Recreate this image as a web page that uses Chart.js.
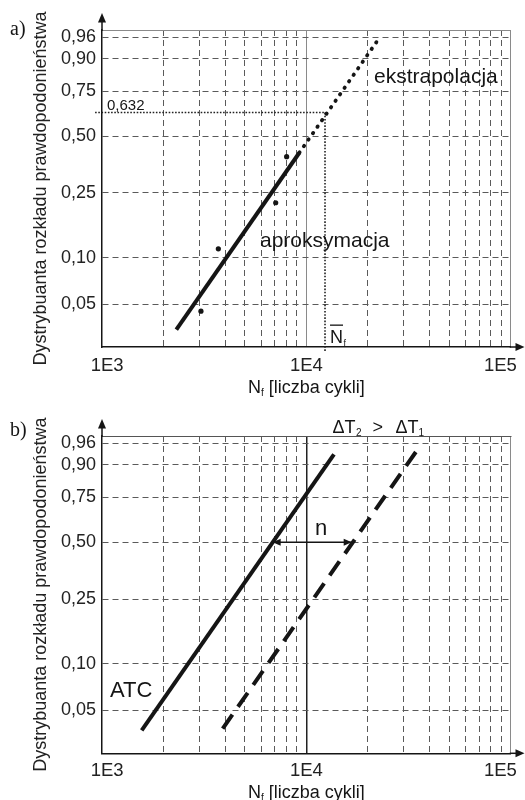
<!DOCTYPE html>
<html lang="pl">
<head>
<meta charset="utf-8">
<title>Dystrybuanta rozkładu Weibulla</title>
<script src="https://cdn.jsdelivr.net/npm/chart.js@4.4.1/dist/chart.umd.min.js"></script>
<style>
  html, body { margin: 0; padding: 0; background: #fff; }
  canvas { display: block; }
</style>
</head>
<body>
<canvas id="chartA" width="525" height="400"></canvas>
<canvas id="chartB" width="525" height="400"></canvas>
<script>
// ---------------- data : panel a) ----------------
const aTestN = [3050, 3710, 7080, 8010];          // test results, cycles
const aTestF = [0.045, 0.114, 0.219, 0.396];      // median ranks
const aFitN = [2310, 9240];                       // approximation line
const aFitF = [0.034, 0.415];
const aExtrapN = [9240, 22100];                   // extrapolation
const aExtrapF = [0.415, 0.950];
const aCharN = 12340;                             // N̄f
const aCharF = 0.632;
const aHGuideN = [925, 12340];
const aHGuideF = [0.632, 0.632];
const aVGuideN = [12340, 12340];
const aVGuideF = [0.632, 0.024];

// ---------------- data : panel b) ----------------
const bATCN = [1564, 13650];
const bATCF = [0.037, 0.933];
const bShiftN = [3896, 34400];
const bShiftF = [0.038, 0.940];
const bArrowN = [6843, 16670];
const bArrowF = [0.5, 0.5];

// ---------------- axes ----------------
const yTickF = [0.05, 0.10, 0.25, 0.50, 0.75, 0.90, 0.96];
const yTickLabels = ['0,05', '0,10', '0,25', '0,50', '0,75', '0,90', '0,96'];
const yRangeF = [0.0261, 0.9724];
const xRangeN = [1e3, 1e5];
const xLabelN = [1e3, 1e4, 1e5];
const xTickLabels = ['1E3', '1E4', '1E5'];

// ---------------- helpers ----------------
const SANS = '"Liberation Sans", Arial, Helvetica, sans-serif';
const SERIF = '"Liberation Serif", "Times New Roman", serif';
const INK = '#151515';
const wb = F => Math.log(-Math.log(1 - F));        // Weibull probability axis
const pts = (ns, fs) => ns.map((n, i) => ({ x: n, y: wb(fs[i]) }));

const gridN = [];
for (let d = xRangeN[0]; d < xRangeN[1]; d *= 10) for (let m = 1; m < 10; m++) gridN.push(m * d);
gridN.push(xRangeN[1]);

const xPadL = ['  ', '', ''];
const xPadR = ['', '', '    '];

function txt(ctx, s, font, x, y) {
  ctx.font = font; ctx.textAlign = 'left'; ctx.textBaseline = 'alphabetic';
  ctx.fillText(s, x, y);
  return ctx.measureText(s).width;
}
function axisTitle(ctx, ca, baseline) {
  const big = '18px ' + SANS, small = '10px ' + SANS;
  ctx.font = big;
  const wN = ctx.measureText('N').width, wR = ctx.measureText(' [liczba cykli]').width;
  ctx.font = small;
  const wf = ctx.measureText('f').width;
  let x = (ca.left + ca.right) / 2 - (wN + wf + wR) / 2;
  txt(ctx, 'N', big, x, baseline); x += wN;
  txt(ctx, 'f', small, x, baseline + 3); x += wf;
  txt(ctx, ' [liczba cykli]', big, x, baseline);
}
function axisArrows(ctx, chart) {
  const ca = chart.chartArea;
  ctx.strokeStyle = INK; ctx.fillStyle = INK; ctx.lineWidth = 1.5;
  ctx.beginPath(); ctx.moveTo(ca.left, ca.top + 1); ctx.lineTo(ca.left, ca.top - 9); ctx.stroke();
  ctx.beginPath(); ctx.moveTo(ca.left, ca.top - 17); ctx.lineTo(ca.left - 4, ca.top - 7.5); ctx.lineTo(ca.left + 4, ca.top - 7.5); ctx.closePath(); ctx.fill();
  ctx.beginPath(); ctx.moveTo(ca.right - 1, ca.bottom); ctx.lineTo(ca.right + 6, ca.bottom); ctx.stroke();
  const tip = chart.width - 0.5;
  ctx.beginPath(); ctx.moveTo(tip, ca.bottom); ctx.lineTo(tip - 9, ca.bottom - 4); ctx.lineTo(tip - 9, ca.bottom + 4); ctx.closePath(); ctx.fill();
}

function makeChart(id, cfg) {
  return new Chart(document.getElementById(id), {
    type: 'scatter',
    data: { datasets: cfg.datasets },
    options: {
      responsive: false, animation: false, devicePixelRatio: 1, events: [],
      layout: { padding: { top: cfg.top, right: 14.3, left: 0, bottom: 0 } },
      plugins: { legend: { display: false }, tooltip: { enabled: false } },
      elements: { line: { tension: 0 } },
      scales: {
        x: {
          type: 'logarithmic', position: 'bottom', min: xRangeN[0], max: xRangeN[1],
          afterBuildTicks: s => { s.ticks = gridN.map(v => ({ value: v })); },
          afterFit: s => { s.height = cfg.xHeight; s.paddingLeft = 0; s.paddingRight = 0; },
          grid: {
            drawTicks: false, lineWidth: 1,
            color: c => (c.tick && xLabelN.indexOf(c.tick.value) >= 0) ? 'rgba(0,0,0,0)' : '#5a5a5a'
          },
          border: { display: true, color: INK, width: 1.5, dash: [6, 4] },
          ticks: {
            autoSkip: false, maxRotation: 0, minRotation: 0, padding: cfg.xPad,
            color: '#222', font: { family: SANS, size: 18.5 },
            callback: v => { const i = xLabelN.indexOf(v); return i < 0 ? '' : xPadL[i] + xTickLabels[i] + xPadR[i]; }
          }
        },
        xFrame: {
          type: 'logarithmic', position: 'top', min: xRangeN[0], max: xRangeN[1],
          afterBuildTicks: s => { s.ticks = xLabelN.slice(1).map(v => ({ value: v })); },
          afterFit: s => { s.height = 0; s.paddingLeft = 0; s.paddingRight = 0; },
          ticks: { display: false },
          grid: {
            drawTicks: false,
            color: c => (c.tick && c.tick.value === 1e4) ? cfg.decadeColor : '#8a8a8a',
            lineWidth: c => (c.tick && c.tick.value === 1e4) ? cfg.decadeWidth : 1
          },
          border: { display: true, color: cfg.frameColor, width: 1 }
        },
        y: {
          type: 'linear', position: 'left', min: wb(yRangeF[0]), max: wb(yRangeF[1]),
          afterBuildTicks: s => { s.ticks = yTickF.map(f => ({ value: wb(f) })); },
          afterFit: s => { s.width = 102; s.paddingTop = 0; s.paddingBottom = 0; },
          grid: { drawTicks: false, lineWidth: 1, color: '#5a5a5a' },
          border: { display: true, color: INK, width: 1.5, dash: [6, 4] },
          ticks: {
            padding: 6, color: '#222', font: { family: SANS, size: 18 },
            callback: (v, i) => yTickLabels[i]
          },
          title: {
            display: true, text: 'Dystrybuanta rozkładu prawdopodonieństwa',
            color: '#222', font: { family: SANS, size: 18 }, padding: { top: 30.5, bottom: 0 }
          }
        }
      }
    },
    plugins: [{ id: 'decor', afterDraw: cfg.decor }]
  });
}

// ---------------- panel a) ----------------
makeChart('chartA', {
  top: 30, xHeight: 53, xPad: 7.7, decadeColor: '#8a8a8a', decadeWidth: 1, frameColor: '#8a8a8a',
  datasets: [
    { label: 'wyniki', data: pts(aTestN, aTestF), showLine: false, pointRadius: 2.6, pointBackgroundColor: INK, pointBorderWidth: 0 },
    { label: 'aproksymacja', data: pts(aFitN, aFitF), showLine: true, borderColor: INK, borderWidth: 4, pointRadius: 0 },
    { label: 'ekstrapolacja', data: pts(aExtrapN, aExtrapF), showLine: true, borderColor: INK, borderWidth: 3.8,
      borderDash: [0.5, 7.4], borderCapStyle: 'round', pointRadius: 0 },
    { label: '0,632', data: pts(aHGuideN, aHGuideF), showLine: true, borderColor: '#222', borderWidth: 1.6,
      borderDash: [1.6, 1.6], pointRadius: 0, clip: false },
    { label: 'Nf', data: pts(aVGuideN, aVGuideF), showLine: true, borderColor: '#222', borderWidth: 1.6,
      borderDash: [1.6, 1.6], pointRadius: 0, clip: false }
  ],
  decor: chart => {
    const ctx = chart.ctx, ca = chart.chartArea, sx = chart.scales.x, sy = chart.scales.y;
    ctx.save();
    axisArrows(ctx, chart);
    ctx.fillStyle = INK;
    txt(ctx, 'a)', '20px ' + SERIF, 10, 35);
    txt(ctx, 'ekstrapolacja', '21px ' + SANS, 374, 83);
    txt(ctx, 'aproksymacja', '21px ' + SANS, 260, 246.5);
    txt(ctx, '0,632', '15px ' + SANS, ca.left + 5, sy.getPixelForValue(wb(aCharF)) - 3);
    const nx = sx.getPixelForValue(aCharN) + 5, nb = ca.bottom - 4;
    const wN = txt(ctx, 'N', '18px ' + SANS, nx, nb);
    txt(ctx, 'f', '9px ' + SANS, nx + wN + 0.5, nb + 3);
    ctx.fillRect(nx, nb - 18.5, wN, 1.3);
    axisTitle(ctx, ca, 392.5);
    ctx.restore();
  }
});

// ---------------- panel b) ----------------
makeChart('chartB', {
  top: 36, xHeight: 46.7, xPad: 6.4, decadeColor: '#222', decadeWidth: 1.5, frameColor: '#555',
  datasets: [
    { label: 'ATC', data: pts(bATCN, bATCF), showLine: true, borderColor: INK, borderWidth: 4, pointRadius: 0 },
    { label: 'ΔT2', data: pts(bShiftN, bShiftF), showLine: true, borderColor: INK, borderWidth: 4,
      borderDash: [17, 9.7], pointRadius: 0 },
    { label: 'n', data: pts(bArrowN, bArrowF), showLine: true, borderColor: INK, borderWidth: 1.5, pointRadius: 0 }
  ],
  decor: chart => {
    const ctx = chart.ctx, ca = chart.chartArea, sx = chart.scales.x, sy = chart.scales.y;
    ctx.save();
    axisArrows(ctx, chart);
    ctx.fillStyle = INK;
    txt(ctx, 'b)', '20px ' + SERIF, 10, 35.7);
    txt(ctx, 'ΔT', '18px ' + SANS, 332.5, 33.3);
    txt(ctx, '2', '10px ' + SANS, 356, 35.5);
    txt(ctx, '>', '18px ' + SANS, 372.5, 33.3);
    txt(ctx, 'ΔT', '18px ' + SANS, 395.5, 33.3);
    txt(ctx, '1', '10px ' + SANS, 418.5, 35.5);
    txt(ctx, 'ATC', '22px ' + SANS, 110, 296.7);
    const ay = sy.getPixelForValue(wb(bArrowF[0]));
    txt(ctx, 'n', '22px ' + SANS, 315, ay - 7);
    const x1 = sx.getPixelForValue(bArrowN[0]), x2 = sx.getPixelForValue(bArrowN[1]);
    ctx.beginPath(); ctx.moveTo(x1, ay); ctx.lineTo(x1 + 8, ay - 3.5); ctx.lineTo(x1 + 8, ay + 3.5); ctx.closePath(); ctx.fill();
    ctx.beginPath(); ctx.moveTo(x2, ay); ctx.lineTo(x2 - 8, ay - 3.5); ctx.lineTo(x2 - 8, ay + 3.5); ctx.closePath(); ctx.fill();
    axisTitle(ctx, ca, 397.5);
    ctx.restore();
  }
});
</script>
</body>
</html>
